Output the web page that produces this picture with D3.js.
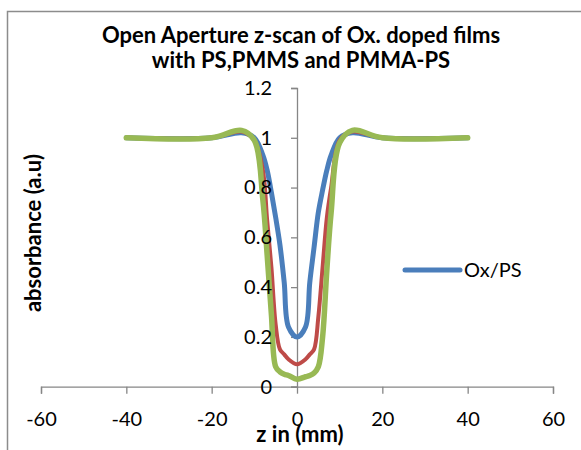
<!DOCTYPE html>
<html>
<head>
<meta charset="utf-8">
<script src="https://cdn.jsdelivr.net/npm/d3@7"></script>
<style>
  html, body { margin: 0; padding: 0; background: #ffffff; }
  svg { display: block; font-family: Lato, "Open Sans", sans-serif; }
</style>
</head>
<body>
<div id="chart"></div>
<script>
// z positions (mm)
const zValues = [-40, -20, -13, -10, -8, -7, -6, -5, -4, -3, -2, 0, 2, 3, 4, 5, 6, 7, 8, 10, 13, 20, 40]

// absorbance for each film
const oxPs     = [1, 1, 1.02, 1.0, 0.93, 0.87, 0.78, 0.68, 0.57, 0.42, 0.24, 0.2, 0.24, 0.42, 0.56, 0.7, 0.79, 0.87, 0.93, 1.0, 1.02, 1, 1]
const oxPmms   = [1, 1, 1.025, 0.99, 0.87, 0.67, 0.48, 0.25, 0.15, 0.13, 0.11, 0.09, 0.11, 0.13, 0.15, 0.28, 0.48, 0.68, 0.8, 0.99, 1.025, 1, 1]
const oxPmmaPs = [1, 1, 1.03, 0.99, 0.75, 0.53, 0.29, 0.08, 0.06, 0.05, 0.045, 0.03, 0.04, 0.045, 0.055, 0.08, 0.2, 0.47, 0.7, 0.98, 1.03, 1, 1]

const xTicks = [-60, -40, -20, 0, 20, 40, 60]
const yTicks = [0, 0.2, 0.4, 0.6, 0.8, 1, 1.2]

const series = [
  { name: 'Ox/PS', values: oxPs, color: '#4A7EBB', width: 5 },
  { name: 'Ox/PMMS', values: oxPmms, color: '#BE4B48', width: 4 },
  { name: 'Ox/PMMA-PS', values: oxPmmaPs, color: '#98B954', width: 5.5 }
]

const width = 581
const height = 450

const svg = d3.select('#chart')
  .append('svg')
  .attr('width', width)
  .attr('height', height)

// chart border (runs off the right and bottom of the picture)
svg.append('rect')
  .attr('x', 7.5)
  .attr('y', 11.5)
  .attr('width', 600)
  .attr('height', 500)
  .attr('fill', 'none')
  .attr('stroke', '#8c8c8c')
  .attr('stroke-width', 1.5)

const x = d3.scaleLinear().domain([-60, 60]).range([41, 553])
const y = d3.scaleLinear().domain([0, 1.2]).range([386.7, 88])

// axes
const xAxis = svg.append('g')
  .attr('transform', `translate(0,${y(0)})`)
  .call(d3.axisBottom(x).tickValues(xTicks).tickSize(7).tickPadding(18).tickFormat(d => String(d)))
xAxis.select('.domain').attr('stroke', '#868686').attr('stroke-width', 1.3)
xAxis.selectAll('.tick line').attr('stroke', '#868686').attr('stroke-width', 1.3)
xAxis.selectAll('.tick text')
  .attr('font-size', '20px')
  .attr('font-family', 'Lato, sans-serif')
  .attr('fill', '#000')

const yAxis = svg.append('g')
  .attr('transform', `translate(${x(0)},0)`)
  .call(d3.axisLeft(y).tickValues(yTicks).tickSize(6).tickPadding(19).tickFormat(d => String(d)))
yAxis.select('.domain').attr('stroke', '#868686').attr('stroke-width', 1.3)
yAxis.selectAll('.tick line').attr('stroke', '#868686').attr('stroke-width', 1.3)
yAxis.selectAll('.tick text')
  .attr('font-size', '20px')
  .attr('font-family', 'Lato, sans-serif')
  .attr('fill', '#000')

// lines
const line = d3.line()
  .x((d, i) => x(zValues[i]))
  .y(d => y(d))
  .curve(d3.curveCatmullRom.alpha(0.5))

svg.append('g')
  .selectAll('path')
  .data(series)
  .enter()
  .append('path')
  .attr('d', d => line(d.values))
  .attr('fill', 'none')
  .attr('stroke', d => d.color)
  .attr('stroke-width', d => d.width)
  .attr('stroke-linecap', 'round')
  .attr('stroke-linejoin', 'round')

// y tick labels sit on top of the curves, like the original
const yLabels = svg.append('g').attr('transform', `translate(${x(0)},0)`)
yAxis.selectAll('.tick').each(function () {
  const t = d3.select(this)
  yLabels.append('text')
    .attr('transform', t.attr('transform'))
    .attr('x', -25)
    .attr('dy', '0.32em')
    .attr('text-anchor', 'end')
    .attr('font-size', '20px')
    .attr('fill', '#000')
    .text(t.select('text').text())
  t.select('text').remove()
})

// title
const title = svg.append('text')
  .attr('text-anchor', 'middle')
  .attr('font-size', '22px')
  .attr('font-weight', 'bold')
  .attr('fill', '#000')
title.append('tspan').attr('x', 301).attr('y', 43).text('Open Aperture z-scan of Ox. doped films')
title.append('tspan').attr('x', 301).attr('y', 68).text('with PS,PMMS and PMMA-PS')

// axis titles
svg.append('text')
  .attr('x', 300)
  .attr('y', 442)
  .attr('text-anchor', 'middle')
  .attr('font-size', '22px')
  .attr('font-weight', 'bold')
  .text('z in (mm)')

svg.append('text')
  .attr('transform', 'translate(41,233) rotate(-90)')
  .attr('text-anchor', 'middle')
  .attr('font-size', '22px')
  .attr('font-weight', 'bold')
  .text('absorbance (a.u)')

// legend (only the first series is shown)
const legend = svg.append('g').attr('transform', 'translate(405,270)')
legend.append('line')
  .attr('x1', 0).attr('x2', 55)
  .attr('stroke', series[0].color)
  .attr('stroke-width', 5)
  .attr('stroke-linecap', 'round')
legend.append('text')
  .attr('x', 59)
  .attr('y', 7)
  .attr('font-size', '20px')
  .text(series[0].name)
</script>
</body>
</html>
